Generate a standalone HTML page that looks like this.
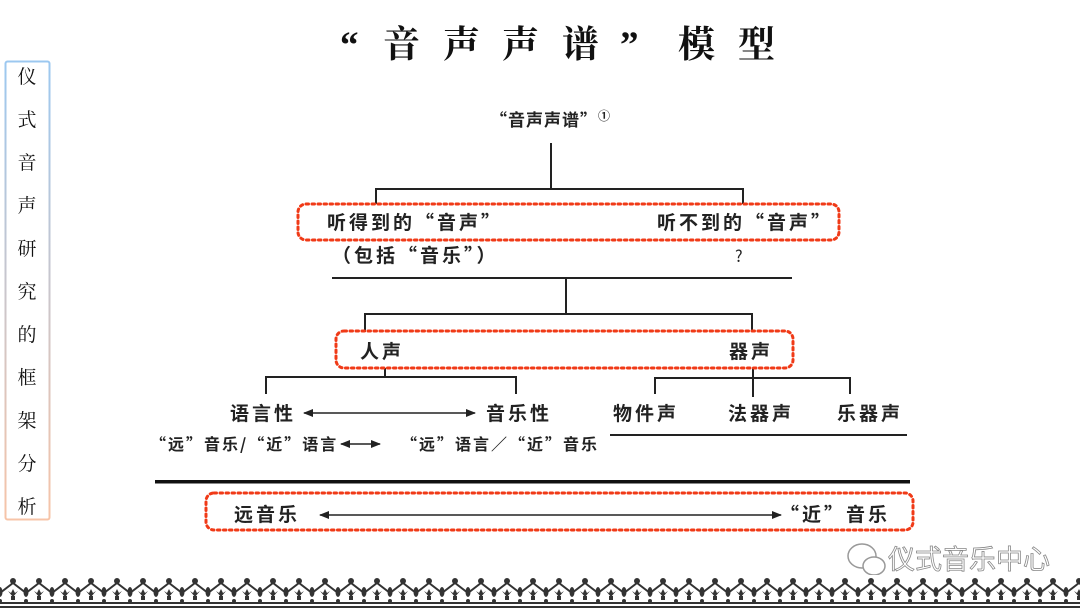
<!DOCTYPE html>
<html><head><meta charset="utf-8"><style>
html,body{margin:0;padding:0;background:#fff}
body{width:1080px;height:608px;position:relative;overflow:hidden}
svg{position:absolute;left:0;top:0}
</style></head><body>
<svg width="1080" height="608" viewBox="0 0 1080 608" xmlns="http://www.w3.org/2000/svg">
<defs>
<linearGradient id="sg" x1="0" y1="0" x2="0" y2="1"><stop offset="0" stop-color="#9cc8f0"/><stop offset="1" stop-color="#f7c4a8"/></linearGradient>
<marker id="ah" markerWidth="10" markerHeight="8" refX="9" refY="4" orient="auto-start-reverse" markerUnits="userSpaceOnUse"><path d="M0,0 L10,4 L0,8 z" fill="#222"/></marker>
<pattern id="bd" x="0" y="575" width="26" height="33" patternUnits="userSpaceOnUse">
<rect x="0" y="0" width="26" height="33" fill="#fff"/>
<path d="M0,18 L13,8 L26,18" fill="none" stroke="#333" stroke-width="2"/>
<circle cx="13" cy="6" r="3" fill="#333"/>
<ellipse cx="0" cy="17" rx="2.5" ry="5" fill="#333"/><ellipse cx="26" cy="17" rx="2.5" ry="5" fill="#333"/>
<path d="M8,16 L13,22 L18,16 L15,18 L13,14 L11,18 z" fill="#333"/>
<rect x="11" y="21" width="4" height="4" fill="#333"/>
<circle cx="0" cy="26" r="2" fill="#333"/><circle cx="26" cy="26" r="2" fill="#333"/>
<rect x="0" y="27" width="26" height="2" fill="#333"/>
<rect x="0" y="31" width="26" height="2" fill="#333"/>
</pattern>
</defs>

<g font-family="Liberation Serif, Noto Serif CJK SC, serif" font-size="37" fill="#111" font-weight="bold">
<text x="340" y="57">“</text>
<text x="383" y="57">音</text><text x="443" y="57">声</text><text x="502" y="57">声</text><text x="562" y="57">谱</text>
<text x="620" y="57">”</text>
<text x="678" y="57">模</text><text x="738" y="57">型</text>
</g>

<rect x="5.5" y="61.5" width="44" height="458" fill="none" stroke="url(#sg)" stroke-width="2" rx="2"/>
<g font-family="Liberation Serif, Noto Serif CJK SC, serif" font-size="19" fill="#111" text-anchor="middle">
<text x="27" y="83">仪</text><text x="27" y="126">式</text><text x="27" y="169">音</text><text x="27" y="212">声</text><text x="27" y="255">研</text><text x="27" y="298">究</text><text x="27" y="341">的</text><text x="27" y="384">框</text><text x="27" y="427">架</text><text x="27" y="470">分</text><text x="27" y="513">析</text>
</g>

<g stroke="#222" stroke-width="2" fill="none">
<path d="M551,143 V189 M376,204 V189 H743 V204"/>
<path d="M332,278 H792" />
<path d="M566,278 V314 M365,332 V314 H752 V332"/>
<path d="M385,368 V377 M266,394 V377 H516 V394"/>
<path d="M753,368 V397 M655,394 V378 H850 V394"/>
<path d="M610,435 H907"/>
<path d="M304,413 H475" stroke-width="1.5" marker-start="url(#ah)" marker-end="url(#ah)"/>
<path d="M341,444 H380" stroke-width="1.5" marker-start="url(#ah)" marker-end="url(#ah)"/>
<path d="M320,515 H781" stroke-width="1.5" marker-start="url(#ah)" marker-end="url(#ah)"/>
</g>
<rect x="155" y="480" width="755" height="3.5" fill="#111"/>

<g fill="none" stroke="#f03a17" stroke-width="3" stroke-dasharray="2.5 3.5" stroke-linecap="round">
<rect x="298" y="204" width="541" height="36" rx="8"/>
<rect x="336" y="331" width="457" height="37" rx="8"/>
<rect x="206" y="493" width="707" height="37" rx="8"/>
</g>

<g font-family="Noto Sans CJK SC, sans-serif" font-size="19" fill="#222" font-weight="bold" letter-spacing="3">
<text x="490" y="126" font-size="17" letter-spacing="1">“音声声谱”<tspan font-size="12" dy="-6">①</tspan></text>
<text x="327" y="229">听得到的“音声”</text>
<text x="657" y="229">听不到的“音声”</text>
<text x="332" y="262">（包括“音乐”）</text>
<text x="735" y="262" font-weight="normal" font-size="16">?</text>
<text x="360" y="358">人声</text>
<text x="729" y="358">器声</text>
<text x="230" y="420">语言性</text>
<text x="486" y="420">音乐性</text>
<text x="613" y="420">物件声</text>
<text x="728" y="420">法器声</text>
<text x="837" y="420">乐器声</text>
<text x="234" y="521">远音乐</text>
<text x="780" y="521">“近”音乐</text>
</g>
<g font-family="Noto Sans CJK SC, sans-serif" font-size="16" fill="#222" font-weight="bold" letter-spacing="2">
<text x="150" y="450">“远”音乐/“近”语言</text>
<text x="401" y="450">“远”语言／“近”音乐</text>
</g>

<g fill="none" stroke="#999" stroke-width="1.5">
<ellipse cx="862" cy="556" rx="14" ry="12"/>
<ellipse cx="874" cy="566" rx="11" ry="9" fill="#fff"/>
</g>
<text x="888" y="569" font-family="Liberation Sans, Noto Sans CJK SC, sans-serif" font-size="27" fill="#fff" stroke="#888" stroke-width="0.8">仪式音乐中心</text>

<rect x="0" y="575" width="1080" height="33" fill="url(#bd)"/>
</svg>
</body></html>
